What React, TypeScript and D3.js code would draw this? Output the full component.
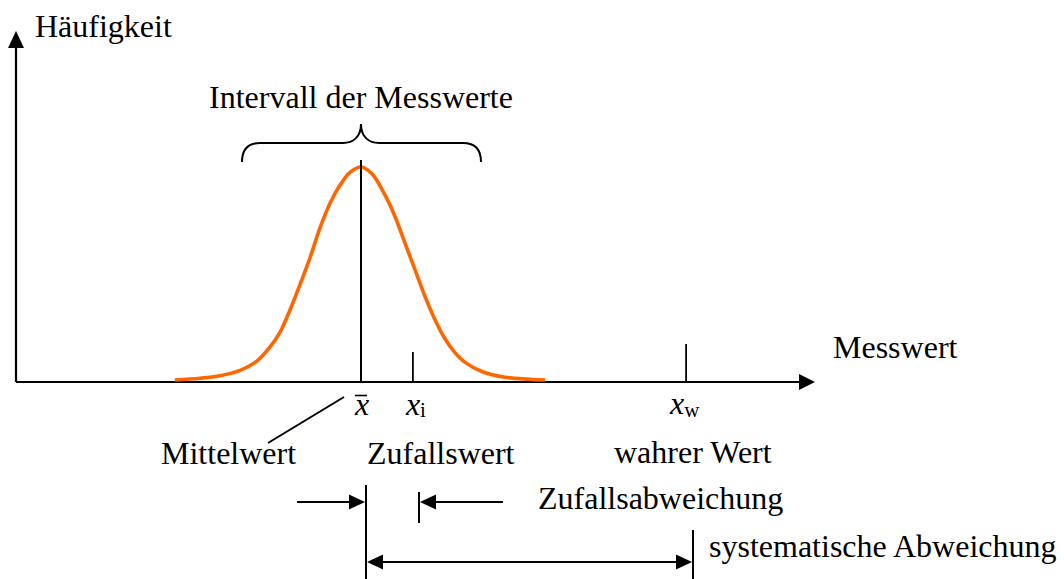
import React from "react";
import * as d3 from "d3";

// Curve of measured values (x in units of standard deviation around the mean, y = relative frequency)
const curveX = [-3.91, -3.38, -2.96, -2.54, -2.18, -1.91, -1.7, -1.49, -1.28, -1.07, -0.86, -0.65, -0.44, -0.23, 0,
  0.23, 0.5, 0.71, 0.92, 1.13, 1.34, 1.55, 1.76, 1.97, 2.18, 2.54, 3.03, 3.87];
const curveY = [0, 0.008, 0.02, 0.045, 0.09, 0.155, 0.225, 0.33, 0.449, 0.575, 0.715, 0.83, 0.915, 0.975, 1,
  0.968, 0.87, 0.77, 0.645, 0.52, 0.395, 0.285, 0.195, 0.13, 0.084, 0.04, 0.013, 0];

// Key positions on the Messwert axis
const markerNames = ["mean", "random", "true"];
const markerValues = [0, 1.09, 6.83];

const labels = {
  yAxis: "Häufigkeit",
  xAxis: "Messwert",
  interval: "Intervall der Messwerte",
  mean: "Mittelwert",
  random: "Zufallswert",
  trueVal: "wahrer Wert",
  randDev: "Zufallsabweichung",
  sysDev: "systematische Abweichung",
};

const FONT = "'Liberation Serif', 'Times New Roman', serif";

export default function App() {
  const W = 1064, H = 579;
  const x = d3.scaleLinear().domain([0, 1]).range([361, 408.6]);
  const y = d3.scaleLinear().domain([0, 1]).range([380, 167]);
  const axisY = 382;
  const axisX = 16;

  const pts: [number, number][] = curveX.map((v, i) => [v, curveY[i]]);
  const line = d3.line<[number, number]>()
    .x(d => x(d[0]))
    .y(d => y(d[1]))
    .curve(d3.curveCatmullRom.alpha(0.5));

  const xm = x(markerValues[0]);
  const xi = x(markerValues[1]);
  const xw = x(markerValues[2]);

  const bL = 242, bR = 481, bTop = 143, bEnd = 162, bTip = 124;
  const brace = `M${bL},${bEnd} C${bL},${bTop + 7} ${bL + 6},${bTop} ${bL + 18},${bTop} L${xm - 18},${bTop} C${xm - 8},${bTop} ${xm},${bTop - 6} ${xm},${bTip} C${xm},${bTop - 6} ${xm + 8},${bTop} ${xm + 18},${bTop} L${bR - 18},${bTop} C${bR - 6},${bTop} ${bR},${bTop + 7} ${bR},${bEnd}`;

  const arrowR = (tx: number, ty: number, len = 16, hw = 7.5) =>
    `M${tx},${ty} L${tx - len},${ty - hw} L${tx - len},${ty + hw} Z`;
  const arrowL = (tx: number, ty: number, len = 16, hw = 7.5) =>
    `M${tx},${ty} L${tx + len},${ty - hw} L${tx + len},${ty + hw} Z`;

  const yA1 = 502, yA2 = 562;

  return (
    <svg width={W} height={H} style={{ position: "absolute", left: 0, top: 0, background: "#fff" }}
      fontFamily={FONT} fontSize={32}>
      <rect width={W} height={H} fill="#fff" />
      {/* axes */}
      <line x1={axisX} y1={axisY} x2={800} y2={axisY} stroke="#000" strokeWidth={2.2} />
      <path d={arrowR(815, axisY, 16, 8)} fill="#000" />
      <line x1={axisX} y1={axisY} x2={axisX} y2={47} stroke="#000" strokeWidth={2.2} />
      <path d={`M${axisX},31 L${axisX - 8},48 L${axisX + 8},48 Z`} fill="#000" />
      <text x={35} y={37}>{labels.yAxis}</text>
      <text x={833} y={358}>{labels.xAxis}</text>

      {/* curve */}
      <path d={line(pts) || ""} fill="none" stroke="#FF6600" strokeWidth={3.6} strokeLinejoin="round" />

      {/* markers */}
      <line x1={xm} y1={160} x2={xm} y2={axisY} stroke="#000" strokeWidth={2} />
      <line x1={xi} y1={352} x2={xi} y2={axisY} stroke="#000" strokeWidth={1.8} />
      <line x1={xw} y1={344} x2={xw} y2={axisY} stroke="#000" strokeWidth={1.8} />

      {/* brace and interval label */}
      <path d={brace} fill="none" stroke="#000" strokeWidth={2} />
      <text x={xm} y={108} textAnchor="middle">{labels.interval}</text>

      {/* axis value labels */}
      <text x={xm - 6} y={415} fontStyle="italic">x</text>
      <line x1={xm - 6} y1={395.5} x2={xm + 6} y2={395.5} stroke="#000" strokeWidth={1.6} />
      <text x={xi - 7} y={415} fontStyle="italic">x<tspan fontStyle="normal" fontSize={21} dy={2}>i</tspan></text>
      <text x={xw - 16} y={414} fontStyle="italic">x<tspan fontStyle="normal" fontSize={21} dy={3}>w</tspan></text>

      {/* description labels */}
      <line x1={268} y1={443} x2={344} y2={397} stroke="#000" strokeWidth={2} />
      <text x={161} y={464}>{labels.mean}</text>
      <text x={367} y={464}>{labels.random}</text>
      <text x={614} y={463}>{labels.trueVal}</text>

      {/* deviation arrows */}
      <line x1={xm + 5} y1={485} x2={xm + 5} y2={579} stroke="#000" strokeWidth={2} />
      <line x1={297} y1={yA1} x2={352} y2={yA1} stroke="#000" strokeWidth={2} />
      <path d={arrowR(xm + 4, yA1, 16, 7.5)} fill="#000" />
      <line x1={419} y1={492} x2={419} y2={523} stroke="#000" strokeWidth={2} />
      <line x1={434} y1={yA1} x2={503} y2={yA1} stroke="#000" strokeWidth={2} />
      <path d={arrowL(420, yA1, 16, 7.5)} fill="#000" />
      <text x={538} y={509}>{labels.randDev}</text>

      <line x1={693} y1={530} x2={693} y2={579} stroke="#000" strokeWidth={2} />
      <line x1={380} y1={yA2} x2={678} y2={yA2} stroke="#000" strokeWidth={2} />
      <path d={arrowL(367, yA2, 16, 7.5)} fill="#000" />
      <path d={arrowR(692, yA2, 16, 7.5)} fill="#000" />
      <text x={709} y={557}>{labels.sysDev}</text>
      {markerNames.length === 0 ? null : null}
    </svg>
  );
}
